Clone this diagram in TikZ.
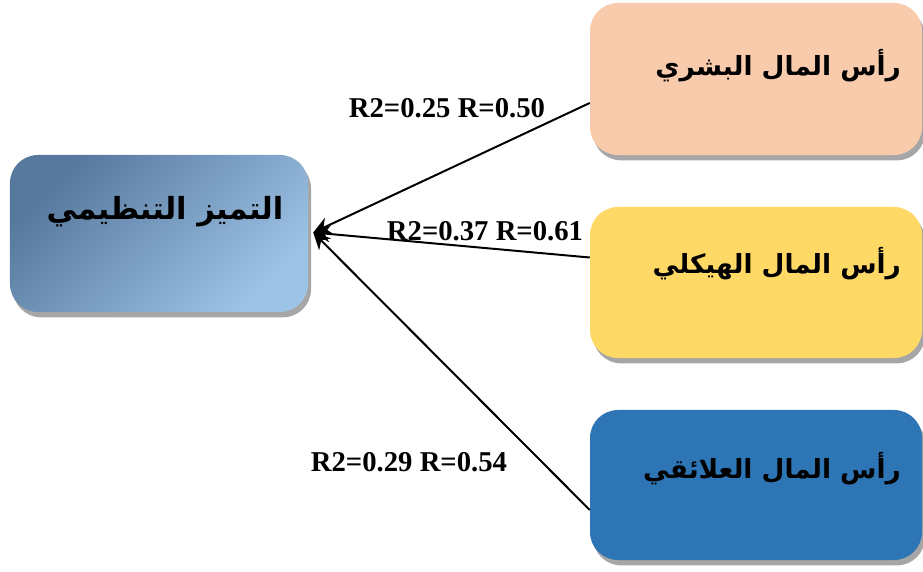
\documentclass[tikz,border=0pt]{standalone}
\usepackage{fontspec}
\setmainfont{Liberation Serif}
\newfontfamily\arabicfont[Script=Arabic]{DejaVu Sans}
\TeXXeTstate=1
\usetikzlibrary{arrows.meta,shadows,calc}
\definecolor{peach}{HTML}{F8CBAD}
\definecolor{gold}{HTML}{FFD966}
\definecolor{steel}{HTML}{2E75B6}
\definecolor{slate}{HTML}{56789C}
\definecolor{sky}{HTML}{9DC3E6}
\tikzset{
  box/.style={rounded corners=0.84cm, minimum width=9.96cm, minimum height=4.56cm,
    drop shadow={shadow xshift=0.09cm, shadow yshift=-0.16cm, fill=black!35, opacity=1}},
  title/.style={anchor=east, font=\arabicfont\bfseries\fontsize{22.5}{28}\selectfont},
  relation/.style={line width=1.7pt, -{Stealth[length=0.5cm, width=0.5cm]}},
  coef/.style={font=\bfseries\fontsize{24.5}{28}\selectfont}
}
\begin{document}
\begin{tikzpicture}[x=0.03cm, y=-0.03cm]
  %%%%% START %%%%%
  \useasboundingbox (0,0) rectangle (923,572);

  \node[box, minimum width=8.94cm, minimum height=4.71cm, top color=slate, bottom color=sky, shading angle=45] (oe) at (159,233.5) {};
  \node[box, fill=peach] (hc) at (756,79) {};
  \node[box, fill=gold, minimum height=4.53cm] (sc) at (756,282.5) {};
  \node[box, fill=steel, minimum height=4.5cm] (rc) at (756,485) {};

  \node[title, anchor=center, font=\arabicfont\bfseries\fontsize{26}{30}\selectfont] (oet) at (165,212) {\beginR التميز التنظيمي\endR};
  \node[title] (hct) at (905,66) {\beginR رأس المال البشري\endR};
  \node[title] (sct) at (905,264) {\beginR رأس المال الهيكلي\endR};
  \node[title] (rct) at (905,469) {\beginR رأس المال العلائقي\endR};

  \coordinate (hcin) at ($(hc.west)+(0,24)$);
  \coordinate (scin) at ($(sc.west)+(0,-25)$);
  \coordinate (rcin) at ($(rc.west)+(0,25)$);
  \coordinate (oein) at ($(oe.east)+(5,-1)$);

  \draw[relation] (hcin) -- (oein);
  \draw[relation] (scin) -- (oein);
  \draw[relation] (rcin) -- (oein);

  \node[coef] (hcr) at (447,108) {R2=0.25 R=0.50};
  \node[coef] (scr) at (485,231) {R2=0.37 R=0.61};
  \node[coef] (rcr) at (409,462) {R2=0.29 R=0.54};
  %%%%% END %%%%%
\end{tikzpicture}
\end{document}
